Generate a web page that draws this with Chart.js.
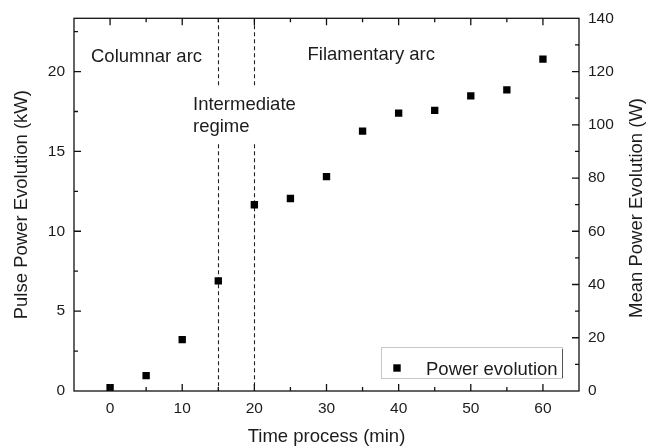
<!DOCTYPE html>
<html>
<head>
<meta charset="utf-8">
<script src="https://cdn.jsdelivr.net/npm/chart.js@4/dist/chart.umd.min.js"></script>
<style>
  html, body { margin: 0; padding: 0; background: #fff; }
  #c { display: block; }
</style>
</head>
<body>
<canvas id="c" width="657" height="448"></canvas>
<script>
// ---- data ----
const timeMin = [0, 5, 10, 15, 20, 25, 30, 35, 40, 45, 50, 55, 60];
const pulsePowerKW = [0.21, 0.96, 3.22, 6.89, 11.66, 12.05, 13.42, 16.27, 17.40, 17.57, 18.48, 18.85, 20.78];
const xTicks = [0, 10, 20, 30, 40, 50, 60];
const yLeftTicks = [0, 5, 10, 15, 20];
const yRightTicks = [0, 20, 40, 60, 80, 100, 120, 140];
const regimeBounds = [15, 20];
const seriesName = 'Power evolution';

const FONT = '"Liberation Sans", Arial, sans-serif';
const TXT = '#1c1c1c';

const overlay = {
  id: 'overlay',
  beforeDatasetsDraw(chart) {
    const ctx = chart.ctx, a = chart.chartArea, xs = chart.scales.x;
    ctx.save();
    // dashed regime boundaries
    ctx.strokeStyle = '#222';
    ctx.lineWidth = 1.1;
    ctx.setLineDash([4, 3]);
    regimeBounds.forEach(v => {
      const px = Math.round(xs.getPixelForValue(v)) + 0.5;
      ctx.beginPath(); ctx.moveTo(px, a.top); ctx.lineTo(px, a.bottom); ctx.stroke();
    });
    ctx.setLineDash([]);
    // region labels
    ctx.fillStyle = '#fff';
    ctx.fillRect(191, 86, 112, 56);
    ctx.fillStyle = TXT;
    ctx.font = '18.5px ' + FONT;
    ctx.textAlign = 'left'; ctx.textBaseline = 'alphabetic';
    ctx.fillText('Columnar arc', 91, 61.5);
    ctx.fillText('Filamentary arc', 307.5, 59.5);
    ctx.fillText('Intermediate', 193, 110);
    ctx.fillText('regime', 193, 132);
    ctx.restore();
  },
  afterDraw(chart) {
    const ctx = chart.ctx, a = chart.chartArea;
    const xs = chart.scales.x, yl = chart.scales.y, yr = chart.scales.y2;
    ctx.save();
    ctx.strokeStyle = '#111';
    ctx.lineWidth = 1.3;
    // frame
    ctx.strokeRect(a.left, a.top, a.right - a.left, a.bottom - a.top);
    const maj = 7, mnr = 4;
    ctx.beginPath();
    // x ticks bottom & top (major every 10, minor every 5)
    for (let v = -5; v <= 65; v += 5) {
      const px = xs.getPixelForValue(v);
      if (px <= a.left + 1 || px >= a.right - 1) continue;
      const L = (v % 10 === 0) ? maj : mnr;
      ctx.moveTo(px, a.bottom); ctx.lineTo(px, a.bottom - L);
      ctx.moveTo(px, a.top); ctx.lineTo(px, a.top + L);
    }
    // left y ticks (major 5, minor 2.5)
    for (let v = 0; v <= 23.3; v += 2.5) {
      const py = yl.getPixelForValue(v);
      if (py >= a.bottom - 1 || py <= a.top + 1) continue;
      const L = (Math.abs(v % 5) < 1e-6) ? maj : mnr;
      ctx.moveTo(a.left, py); ctx.lineTo(a.left + L, py);
    }
    // right y ticks (major 20, minor 10)
    for (let v = 0; v <= 140; v += 10) {
      const py = yr.getPixelForValue(v);
      if (py >= a.bottom - 1 || py <= a.top + 1) continue;
      const L = (v % 20 === 0) ? maj : mnr;
      ctx.moveTo(a.right, py); ctx.lineTo(a.right - L, py);
    }
    ctx.stroke();

    // right axis title (reads bottom to top)
    ctx.save();
    ctx.translate(637, 208);
    ctx.rotate(-Math.PI / 2);
    ctx.fillStyle = TXT;
    ctx.font = '18.5px ' + FONT;
    ctx.textAlign = 'center'; ctx.textBaseline = 'middle';
    ctx.fillText('Mean Power Evolution (W)', 0, 0);
    ctx.restore();

    // legend
    ctx.lineWidth = 1;
    ctx.strokeStyle = '#c8c8c8';
    ctx.strokeRect(381.5, 347.5, 181, 31);
    ctx.strokeStyle = '#555';
    ctx.beginPath(); ctx.moveTo(562.5, 349); ctx.lineTo(562.5, 378); ctx.stroke();
    ctx.fillStyle = '#000';
    ctx.fillRect(397 - 3.7, 368 - 3.7, 7.4, 7.4);
    ctx.fillStyle = TXT;
    ctx.font = '18.5px ' + FONT;
    ctx.textAlign = 'left'; ctx.textBaseline = 'alphabetic';
    ctx.fillText(seriesName, 426, 375);
    ctx.restore();
  }
};

new Chart(document.getElementById('c'), {
  type: 'scatter',
  data: {
    datasets: [{
      label: seriesName,
      data: timeMin.map((t, i) => ({ x: t, y: pulsePowerKW[i] })),
      pointStyle: 'rect',
      pointRadius: 5.2,
      pointHoverRadius: 5.2,
      backgroundColor: '#000',
      borderColor: '#000',
      borderWidth: 0,
      showLine: false,
      yAxisID: 'y'
    }]
  },
  options: {
    responsive: false,
    animation: false,
    devicePixelRatio: 1,
    layout: { padding: { top: 16, left: 0, right: 0, bottom: 0 } },
    plugins: { legend: { display: false }, tooltip: { enabled: false } },
    scales: {
      x: {
        type: 'linear', position: 'bottom', min: -5, max: 65,
        afterBuildTicks: s => { s.ticks = xTicks.map(v => ({ value: v })); },
        afterFit: s => { s.height = 57; },
        grid: { display: false, drawTicks: false, tickLength: 0 },
        border: { display: false },
        ticks: { color: TXT, font: { family: FONT, size: 15.5 }, padding: 8, maxRotation: 0 },
        title: { display: true, text: 'Time process (min)', color: TXT,
                 font: { family: FONT, size: 18.5 }, padding: { top: 0, bottom: 0 } }
      },
      y: {
        type: 'linear', position: 'left', min: 0, max: 140 / 6,
        afterBuildTicks: s => { s.ticks = yLeftTicks.map(v => ({ value: v })); },
        afterFit: s => { s.width = 74; },
        grid: { display: false, drawTicks: false, tickLength: 0 },
        border: { display: false },
        ticks: { color: TXT, font: { family: FONT, size: 15.5 }, padding: 9 },
        title: { display: true, text: 'Pulse Power Evolution (kW)', color: TXT,
                 font: { family: FONT, size: 18.5 }, padding: { top: 11, bottom: 0 } }
      },
      y2: {
        type: 'linear', position: 'right', min: 0, max: 140,
        afterBuildTicks: s => { s.ticks = yRightTicks.map(v => ({ value: v })); },
        afterFit: s => { s.width = 78; },
        grid: { display: false, drawTicks: false, tickLength: 0 },
        border: { display: false },
        ticks: { color: TXT, font: { family: FONT, size: 15.5 }, padding: 9 },
        title: { display: false }
      }
    }
  },
  plugins: [overlay]
});
</script>
</body>
</html>
